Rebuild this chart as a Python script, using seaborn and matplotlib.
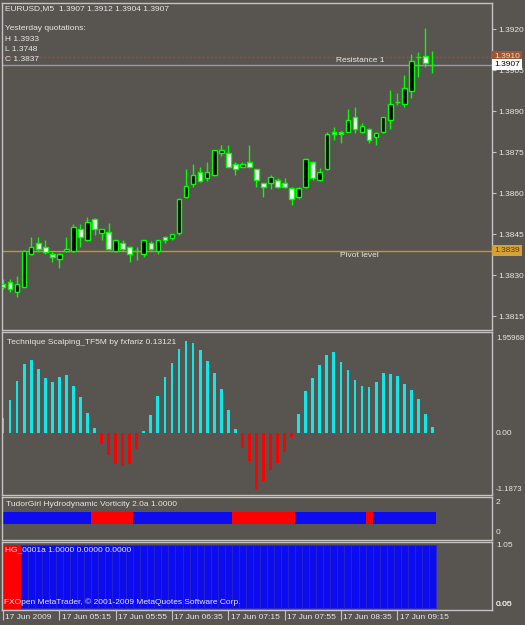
import numpy as np
import pandas as pd
import matplotlib
matplotlib.use("Agg")
import matplotlib.pyplot as plt
import matplotlib.transforms as mtrans
import seaborn as sns

# ---------------- data ----------------
bar_idx = list(range(62))
opens = [1.38267, 1.38277, 1.38238, 1.38258, 1.38377, 1.38417, 1.38405, 1.38378, 1.38358, 1.38389,
         1.38389, 1.38468, 1.38429, 1.38506, 1.38456, 1.38457, 1.38389, 1.38417, 1.38405, 1.38389,
         1.38378, 1.38417, 1.38390, 1.38441, 1.38438, 1.38456, 1.38585, 1.38634, 1.38677, 1.38657,
         1.38667, 1.38746, 1.38746, 1.38706, 1.38697, 1.38716, 1.38688, 1.38637, 1.38637, 1.38649,
         1.38637, 1.38618, 1.38585, 1.38624, 1.38716, 1.38649, 1.38689, 1.38825, 1.38825, 1.38825,
         1.38878, 1.38825, 1.38834, 1.38807, 1.38825, 1.38868, 1.38934, 1.38926, 1.38974, 1.39100,
         1.39103, 1.39070]
highs = [1.38286, 1.38286, 1.38297, 1.38392, 1.38441, 1.38439, 1.38429, 1.38389, 1.38380, 1.38441,
         1.38488, 1.38488, 1.38514, 1.38508, 1.38470, 1.38490, 1.38431, 1.38429, 1.38407, 1.38405,
         1.38431, 1.38425, 1.38431, 1.38443, 1.38452, 1.38581, 1.38689, 1.38707, 1.38697, 1.38716,
         1.38760, 1.38777, 1.38777, 1.38716, 1.38716, 1.38777, 1.38690, 1.38639, 1.38667, 1.38656,
         1.38657, 1.38624, 1.38622, 1.38728, 1.38718, 1.38691, 1.38825, 1.38844, 1.38827, 1.38907,
         1.38915, 1.38858, 1.38838, 1.38825, 1.38880, 1.38978, 1.38966, 1.39033, 1.39109, 1.39116,
         1.39206, 1.39120]
lows = [1.38250, 1.38239, 1.38219, 1.38256, 1.38374, 1.38386, 1.38378, 1.38347, 1.38328, 1.38387,
        1.38386, 1.38405, 1.38427, 1.38447, 1.38429, 1.38394, 1.38386, 1.38392, 1.38350, 1.38356,
        1.38368, 1.38392, 1.38378, 1.38417, 1.38429, 1.38447, 1.38583, 1.38624, 1.38642, 1.38646,
        1.38665, 1.38738, 1.38695, 1.38667, 1.38695, 1.38695, 1.38624, 1.38588, 1.38616, 1.38620,
        1.38618, 1.38557, 1.38578, 1.38618, 1.38649, 1.38646, 1.38686, 1.38795, 1.38785, 1.38823,
        1.38820, 1.38820, 1.38785, 1.38777, 1.38822, 1.38834, 1.38923, 1.38917, 1.38948, 1.39027,
        1.39063, 1.39040]
closes = [1.38258, 1.38249, 1.38267, 1.38389, 1.38405, 1.38395, 1.38386, 1.38368, 1.38378, 1.38396,
          1.38478, 1.38439, 1.38496, 1.38468, 1.38468, 1.38396, 1.38429, 1.38396, 1.38378, 1.38390,
          1.38429, 1.38396, 1.38429, 1.38429, 1.38450, 1.38579, 1.38627, 1.38667, 1.38646, 1.38677,
          1.38758, 1.38758, 1.38697, 1.38688, 1.38706, 1.38697, 1.38649, 1.38624, 1.38658, 1.38624,
          1.38624, 1.38578, 1.38618, 1.38725, 1.38657, 1.38679, 1.38816, 1.38816, 1.38816, 1.38868,
          1.38834, 1.38846, 1.38795, 1.38820, 1.38878, 1.38927, 1.38935, 1.38986, 1.39085, 1.39097,
          1.39076, 1.39070]

scalp_vals = [0.30, 0.66, 1.05, 1.38, 1.46, 1.29, 1.10, 1.03, 1.12, 1.16, 0.94, 0.72, 0.41, 0.10,
              -0.21, -0.43, -0.62, -0.65, -0.62, -0.32,
              0.05, 0.36, 0.74, 1.13, 1.41, 1.67, 1.84, 1.80, 1.66, 1.45, 1.21, 0.88, 0.46, 0.08,
              -0.30, -0.56, -1.10, -0.95, -0.74, -0.60, -0.38, -0.07,
              0.38, 0.84, 1.11, 1.36, 1.56, 1.61, 1.43, 1.26, 1.06, 0.94, 0.93, 1.03, 1.21, 1.18,
              1.14, 0.98, 0.86, 0.68, 0.38, 0.13]

vort_vals = [1.0] * 62
vort_state = (['blue'] * 13 + ['red'] * 6 + ['blue'] * 14 + ['red'] * 9 +
              ['blue'] * 10 + ['red'] * 1 + ['blue'] * 9)

hg_vals = [1.0] * 62
hg_state = ['red'] * 3 + ['blue'] * 59

price_ticks = [1.3920, 1.3905, 1.3890, 1.3875, 1.3860, 1.3845, 1.3830, 1.3815]
price_tick_labels = ['1.3920', '1.3905', '1.3890', '1.3875', '1.3860', '1.3845', '1.3830', '1.3815']
time_tick_idx = [0, 8, 16, 24, 32, 40, 48, 56]
time_tick_labels = ['17 Jun 2009', '17 Jun 05:15', '17 Jun 05:55', '17 Jun 06:35',
                    '17 Jun 07:15', '17 Jun 07:55', '17 Jun 08:35', '17 Jun 09:15']

pivot_level = 1.3839
resistance_1 = 1.3910
bid_price = 1.3907
header = "EURUSD,M5  1.3907 1.3912 1.3904 1.3907"
yesterday = ["Yesterday quotations:", "H 1.3933", "L 1.3748", "C 1.3837"]

# ---------------- style ----------------
BG = '#58544f'
FG = '#e8e8e8'
GRID = '#c4c4c4'
LIME = '#00ff00'
CYAN = '#12e6e6'
RED = '#ff0000'
BLUE = '#0c0cee'

sns.set_theme(style='dark', rc={'axes.facecolor': BG, 'figure.facecolor': BG})
plt.rcParams['font.family'] = ['Liberation Sans', 'DejaVu Sans']
FS = 6
RX = 1.0082   # right-axis label offset (4 px right of panel edge)

W, H = 525, 625
fig = plt.figure(figsize=(5.25, 6.25), dpi=100, facecolor=BG)


def axes_px(x0, y0, x1, y1):
    ax = fig.add_axes([x0 / W, 1 - y1 / H, (x1 - x0) / W, (y1 - y0) / H])
    ax.set_facecolor(BG)
    for s in ax.spines.values():
        s.set_color(GRID)
        s.set_linewidth(1.0)
    ax.grid(False)
    return ax


def ftext(x, y, s, **kw):
    kw.setdefault('color', FG)
    kw.setdefault('fontsize', FS)
    kw.setdefault('va', 'center')
    kw.setdefault('ha', 'left')
    fig.text(x / W, 1 - y / H, s, **kw)


ax_m = axes_px(2, 3, 492, 330)
ax1 = axes_px(2, 332, 492, 495)
ax2 = axes_px(2, 497, 492, 540)
ax3 = axes_px(2, 542, 492, 610)

XL = (-0.142, 69.46)

# ---------------- main candles ----------------
o = np.array(opens); c = np.array(closes)
hi = np.array(highs); lo = np.array(lows)
x = np.array(bar_idx)
ax_m.vlines(x, lo, hi, colors=LIME, lw=1.0, zorder=2)
fills = np.where(c > o, '#000000', '#ffffff')
ax_m.bar(x, np.abs(c - o), width=0.66, bottom=np.minimum(o, c), color=fills,
         edgecolor=LIME, linewidth=1.0, zorder=3)

ax_m.axhline(pivot_level, color='#c8962e', lw=1.0, zorder=1)
ax_m.axhline(resistance_1, color='#9a5030', lw=1.0, ls=(0, (1.5, 1.5)), zorder=1)
ax_m.axhline(bid_price, color='#9898b0', lw=1.0, zorder=1)

ax_m.set_xlim(*XL)
ax_m.set_ylim(1.38100, 1.39296)
ax_m.yaxis.tick_right()
ax_m.set_yticks(price_ticks)
ax_m.set_yticklabels(price_tick_labels)
ax_m.tick_params(axis='y', length=3, width=0.8, color=GRID, pad=1.5, labelsize=FS, labelcolor=FG)
ax_m.set_xticks([])

bl = mtrans.blended_transform_factory(ax_m.transAxes, ax_m.transData)
ax_m.text(0.682, resistance_1 - 0.00003, 'Resistance 1', transform=bl, va='top', ha='left',
          color=FG, fontsize=FS)
ax_m.text(0.69, pivot_level - 0.00003, 'Pivot level', transform=bl, va='top', ha='left',
          color=FG, fontsize=FS)
ax_m.text(1.004, resistance_1, '1.3910', transform=bl, va='center', ha='left', color='#f0d8c8',
          fontsize=FS, clip_on=False, zorder=5,
          bbox=dict(boxstyle='square,pad=0.25', fc='#9c5634', ec='none'))
ax_m.text(1.004, bid_price, '1.3907', transform=bl, va='center', ha='left', color='#000000',
          fontsize=FS, clip_on=False, zorder=6,
          bbox=dict(boxstyle='square,pad=0.25', fc='#ffffff', ec='none'))
ax_m.text(1.004, pivot_level, '1.3839', transform=bl, va='center', ha='left', color='#5a4010',
          fontsize=FS, clip_on=False, zorder=5,
          bbox=dict(boxstyle='square,pad=0.25', fc='#d6a232', ec='none'))

ftext(5, 9, header)
for k, s in enumerate(yesterday):
    ftext(5, 29 + k * 10.3, s)

# ---------------- indicator 1 ----------------
df1 = pd.DataFrame({'bar': bar_idx, 'val': scalp_vals})
df1['dir'] = np.where(df1['val'] >= 0, 'up', 'down')
sns.barplot(data=df1, x='bar', y='val', hue='dir', palette={'up': CYAN, 'down': RED},
            native_scale=True, dodge=False, width=0.4, saturation=1, errorbar=None,
            legend=False, linewidth=0, ax=ax1)
ax1.set_xlim(*XL)
ax1.set_ylim(-1.229, 2.018)
ax1.set_xticks([]); ax1.set_yticks([])
ax1.set_xlabel(''); ax1.set_ylabel('')
b1 = mtrans.blended_transform_factory(ax1.transAxes, ax1.transData)
ax1.text(RX, 1.95968, '1.95968', transform=b1, va='top', ha='left', color=FG, fontsize=5.6, clip_on=False)
ax1.text(RX, 0.0, '0.00', transform=b1, va='center', ha='left', color=FG, fontsize=FS, clip_on=False)
ax1.text(RX, -1.1873, '-1.1873', transform=b1, va='bottom', ha='left', color=FG, fontsize=5.6, clip_on=False)
ftext(7, 342, 'Technique Scalping_TF5M by fxfariz 0.13121')

# ---------------- indicator 2 ----------------
vcol = [RED if s == 'red' else BLUE for s in vort_state]
ax2.bar(bar_idx, np.array(vort_vals) * 0.78, width=1.0, bottom=np.array(vort_vals) * 0.61,
        color=vcol, linewidth=0)
ax2.set_xlim(*XL)
ax2.set_ylim(-0.467, 2.4)
ax2.set_xticks([]); ax2.set_yticks([])
b2 = mtrans.blended_transform_factory(ax2.transAxes, ax2.transData)
ax2.text(RX, 2, '2', transform=b2, va='center', ha='left', color=FG, fontsize=FS, clip_on=False)
ax2.text(RX, 0, '0', transform=b2, va='center', ha='left', color=FG, fontsize=FS, clip_on=False)
ftext(6, 505, 'TudorGirl Hydrodynamic Vorticity 2.0a 1.0000')

# ---------------- indicator 3 ----------------
df3 = pd.DataFrame({'bar': bar_idx, 'val': hg_vals, 'state': hg_state})
sns.barplot(data=df3, x='bar', y='val', hue='state', palette={'blue': BLUE, 'red': RED},
            native_scale=True, dodge=False, width=1.0, saturation=1, errorbar=None,
            legend=False, edgecolor='#2828c8', linewidth=0.5, ax=ax3)
for p in ax3.patches:
    if p.get_facecolor()[0] > 0.5:
        p.set_edgecolor(RED)
ax3.set_xlim(*XL)
ax3.set_ylim(-0.04, 1.05)
ax3.set_yticks([])
ax3.set_xlabel(''); ax3.set_ylabel('')
ax3.set_xticks(time_tick_idx)
ax3.set_xticklabels(time_tick_labels, ha='left')
ax3.tick_params(axis='x', bottom=True, length=7, width=0.8, color=GRID, pad=-4,
                labelsize=FS, labelcolor=FG)
shift = mtrans.ScaledTranslation(2.5 / 100, 0, fig.dpi_scale_trans)
for lab in ax3.get_xticklabels():
    lab.set_transform(lab.get_transform() + shift)
b3 = mtrans.blended_transform_factory(ax3.transAxes, ax3.transData)
ax3.text(RX, 1.05, '1.05', transform=b3, va='top', ha='left', color=FG, fontsize=FS, clip_on=False)
ax3.text(RX, 0.05, '0.05', transform=b3, va='center', ha='left', color=FG, fontsize=FS, clip_on=False)
ax3.text(RX, 0.0, '0.00', transform=b3, va='bottom', ha='left', color=FG, fontsize=FS, clip_on=False)
ftext(5, 550, 'HG_0001a 1.0000 0.0000 0.0000')
ftext(4, 602, 'FXOpen MetaTrader, \u00a9 2001-2009 MetaQuotes Software Corp.')

fig.savefig('out.png', dpi=100, facecolor=BG)
